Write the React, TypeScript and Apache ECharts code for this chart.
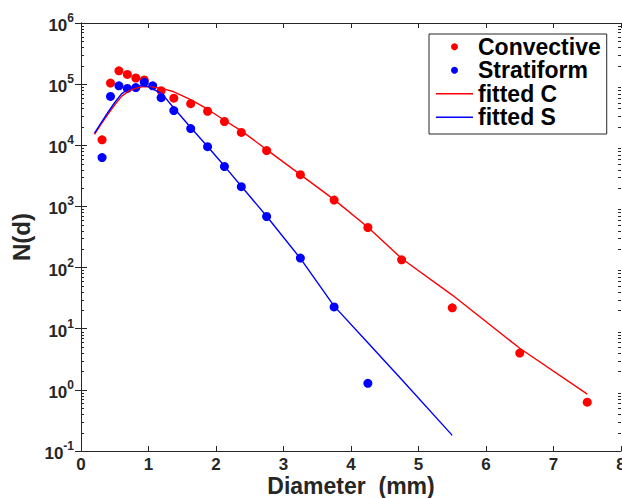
import React, { useEffect, useRef } from 'react';
import * as echarts from 'echarts';

// Measured drop size distributions (diameter in mm, N(d))
const convD = [0.312, 0.437, 0.562, 0.687, 0.812, 0.937, 1.187, 1.375, 1.625, 1.875, 2.125, 2.375, 2.75, 3.25, 3.75, 4.25, 4.75, 5.5, 6.5, 7.5];
const convN = [12300, 104000, 165000, 144000, 126000, 117000, 78000, 59000, 48000, 36000, 24500, 16200, 8200, 3300, 1270, 452, 134, 22, 4.0, 0.63];

const stratD = [0.312, 0.437, 0.562, 0.687, 0.812, 0.937, 1.062, 1.187, 1.375, 1.625, 1.875, 2.125, 2.375, 2.75, 3.25, 3.75, 4.25];
const stratN = [6300, 63000, 94000, 85000, 88000, 107000, 94000, 60000, 37000, 18800, 9500, 4500, 2100, 684, 143, 22.7, 1.28];

// Fitted curves
const fitCD = [0.2, 0.3, 0.4, 0.5, 0.6, 0.7, 0.8, 0.9, 1.0, 1.2, 1.375, 1.625, 1.875, 2.125, 2.375, 2.75, 3.25, 3.75, 4.25, 4.75, 5.5, 6.5, 7.5];
const fitCN = [15100, 22400, 32400, 45700, 63100, 75900, 85100, 90200, 91200, 85100, 75000, 55600, 38900, 25700, 17200, 8510, 3310, 1290, 457, 141, 35.5, 4.79, 0.85];

const fitSD = [0.2, 0.3, 0.4, 0.5, 0.6, 0.7, 0.8, 0.9, 1.0, 1.2, 1.375, 1.625, 1.875, 2.125, 2.375, 2.75, 3.25, 3.75, 4.25, 4.75, 5.5];
const fitSN = [15800, 23400, 34700, 50100, 69200, 83200, 91200, 94400, 91200, 69200, 40700, 19500, 9550, 4570, 2140, 692, 141, 23.4, 5.89, 1.48, 0.18];

const seriesNames = ['Convective', 'Stratiform', 'fitted C', 'fitted S'];
const xMin = 0;
const xMax = 8;
const yMin = 0.1;
const yMax = 1e6;

const FONT = '"Liberation Sans", Arial, Helvetica, sans-serif';
const AXIS = '#262626';
const LINE_ICON = 'path://M0,0L37,0L37,1.5L0,1.5Z';

function zip(xs: number[], ys: number[]) {
  return xs.map((x, i) => [x, ys[i]]);
}

// minor tick positions of the log axis (2..9 x 10^k)
function minorTickValues() {
  const out: number[][] = [];
  for (let k = -1; k < 6; k++) {
    for (let m = 2; m <= 9; m++) out.push([xMin, m * Math.pow(10, k)]);
  }
  return out;
}

export default function App() {
  const ref = useRef<HTMLDivElement>(null);
  useEffect(() => {
    if (!ref.current) return;
    const chart = echarts.init(ref.current, undefined, { renderer: 'svg' });
    const option: any = {
      animation: false,
      backgroundColor: '#ffffff',
      grid: { left: 81, top: 23, right: 1, bottom: 47, containLabel: false, outerBoundsMode: 'none' },
      legend: {
        data: [
          { name: seriesNames[0], icon: 'circle' },
          { name: seriesNames[1], icon: 'circle' },
          { name: seriesNames[2], icon: LINE_ICON },
          { name: seriesNames[3], icon: LINE_ICON },
        ],
        orient: 'vertical',
        left: 429,
        top: 34,
        itemWidth: 37,
        itemHeight: 7,
        itemGap: 0,
        padding: [1, 6, 5, 7],
        backgroundColor: '#ffffff',
        borderColor: AXIS,
        borderWidth: 1,
        borderRadius: 0,
        textStyle: { fontFamily: FONT, fontWeight: 'bold', fontSize: 23, color: '#000', lineHeight: 23.5 },
      },
      xAxis: [
        {
          type: 'value',
          min: xMin,
          max: xMax,
          interval: 1,
          name: 'Diameter  (mm)',
          nameLocation: 'middle',
          nameGap: 23,
          nameMoveOverlap: false,
          nameTextStyle: { fontFamily: FONT, fontWeight: 'bold', fontSize: 23, color: AXIS, lineHeight: 24 },
          axisLine: { show: true, lineStyle: { color: AXIS, width: 1 } },
          axisTick: { show: true, inside: true, length: 5, lineStyle: { color: AXIS } },
          axisLabel: { fontFamily: FONT, fontWeight: 'bold', fontSize: 17, color: AXIS, margin: 5 },
          splitLine: { show: false },
        },
        {
          type: 'value',
          position: 'top',
          min: xMin,
          max: xMax,
          interval: 1,
          axisLine: { show: true, lineStyle: { color: AXIS, width: 1 } },
          axisTick: { show: true, inside: true, length: 5, lineStyle: { color: AXIS } },
          axisLabel: { show: false },
          splitLine: { show: false },
        },
      ],
      yAxis: [
        {
          type: 'log',
          logBase: 10,
          min: yMin,
          max: yMax,
          splitNumber: 7,
          name: 'N(d)',
          nameLocation: 'middle',
          nameRotate: 90,
          nameGap: 48,
          nameMoveOverlap: false,
          nameTextStyle: { fontFamily: FONT, fontWeight: 'bold', fontSize: 24, color: AXIS },
          axisLine: { show: true, lineStyle: { color: AXIS, width: 1 } },
          axisTick: { show: true, inside: true, length: 6, lineStyle: { color: AXIS } },
          axisLabel: {
            margin: 7,
            formatter: (v: number) => `{b|10}{s|${Math.round(Math.log10(v))}}`,
            rich: {
              b: { fontFamily: FONT, fontWeight: 'bold', fontSize: 17, color: AXIS, lineHeight: 22, verticalAlign: 'bottom' },
              s: { fontFamily: FONT, fontWeight: 'bold', fontSize: 12, color: AXIS, lineHeight: 12, verticalAlign: 'top' },
            },
          },
          splitLine: { show: false },
        },
        {
          type: 'log',
          logBase: 10,
          position: 'right',
          min: yMin,
          max: yMax,
          splitNumber: 7,
          axisLine: { show: true, lineStyle: { color: AXIS, width: 1 } },
          axisTick: { show: true, inside: true, length: 6, lineStyle: { color: AXIS } },
          axisLabel: { show: false },
          splitLine: { show: false },
        },
      ],
      series: [
        {
          name: 'minorTicks',
          type: 'custom',
          silent: true,
          xAxisIndex: 0,
          yAxisIndex: 0,
          data: minorTickValues(),
          renderItem: (params: any, api: any) => {
            const v = api.value(1);
            const p0 = api.coord([xMin, v]);
            const p1 = api.coord([xMax, v]);
            const y = Math.round(p0[1]) + 0.5;
            return {
              type: 'group',
              children: [
                { type: 'line', shape: { x1: p0[0], y1: y, x2: p0[0] + 3, y2: y }, style: { stroke: AXIS, lineWidth: 1 } },
                { type: 'line', shape: { x1: p1[0] - 3, y1: y, x2: p1[0], y2: y }, style: { stroke: AXIS, lineWidth: 1 } },
              ],
            };
          },
        },
        {
          name: 'Convective',
          type: 'scatter',
          data: zip(convD, convN),
          symbol: 'circle',
          symbolSize: 9,
          itemStyle: { color: '#ff0000', opacity: 1 },
        },
        {
          name: 'Stratiform',
          type: 'scatter',
          data: zip(stratD, stratN),
          symbol: 'circle',
          symbolSize: 9,
          itemStyle: { color: '#0000ff', opacity: 1 },
        },
        {
          name: 'fitted C',
          type: 'line',
          data: zip(fitCD, fitCN),
          showSymbol: false,
          symbol: 'none',
          lineStyle: { color: '#ff0000', width: 1.4 },
          itemStyle: { color: '#ff0000' },
        },
        {
          name: 'fitted S',
          type: 'line',
          data: zip(fitSD, fitSN),
          showSymbol: false,
          symbol: 'none',
          lineStyle: { color: '#0000ff', width: 1.4 },
          itemStyle: { color: '#0000ff' },
        },
      ],
    };
    chart.setOption(option);
    return () => chart.dispose();
  }, []);
  return <div ref={ref} style={{ position: 'fixed', left: 0, top: 0, width: 622, height: 498 }} />;
}
